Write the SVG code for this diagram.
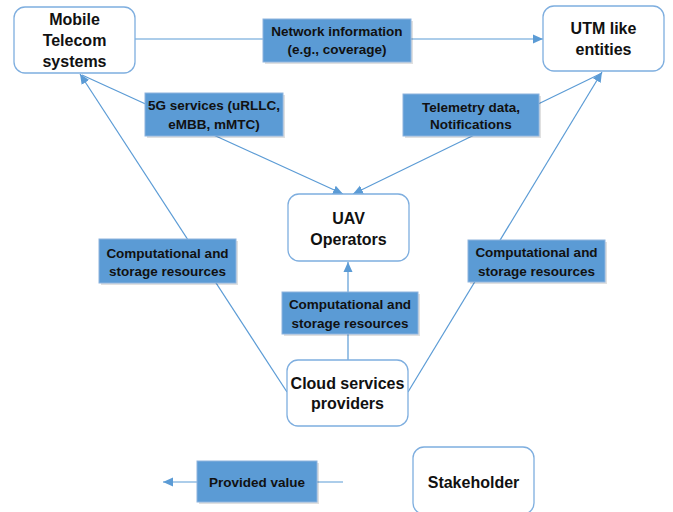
<svg xmlns="http://www.w3.org/2000/svg" width="673" height="512" viewBox="0 0 673 512">
  <defs>
    <marker id="arrow" viewBox="0 0 10 10" refX="10" refY="5" markerWidth="10" markerHeight="10" markerUnits="userSpaceOnUse" orient="auto">
      <path d="M0,0.5 L10,5 L0,9.5 Z" fill="#5B9BD5"/>
    </marker>
  </defs>
  <style>
    .node rect { fill: #ffffff; stroke: #7EAEDF; stroke-width: 1.3; }
    .node text { font-family: "Liberation Sans", Arial, sans-serif; font-weight: bold; font-size: 16px; fill: #111; text-anchor: middle; }
    .label .shadow { fill: #000; opacity: 0.12; }
    .label .box { fill: #5B9BD5; stroke: #8DB3DE; stroke-width: 1; }
    .label text { font-family: "Liberation Sans", Arial, sans-serif; font-weight: bold; font-size: 13.5px; fill: #111; text-anchor: middle; }
    .conn line { stroke: #5B9BD5; stroke-width: 1.2; fill: none; }
  </style>
  <rect width="673" height="512" fill="#ffffff"/>

  <!-- connectors -->
  <g id="connectors" class="conn">
    <line x1="135" y1="39" x2="543" y2="39" marker-end="url(#arrow)"/>
    <line x1="82" y1="75" x2="343" y2="194" marker-end="url(#arrow)"/>
    <line x1="602" y1="73" x2="353" y2="194" marker-end="url(#arrow)"/>
    <line x1="287" y1="392" x2="80" y2="74" marker-end="url(#arrow)"/>
    <line x1="408" y1="392" x2="602" y2="72" marker-end="url(#arrow)"/>
    <line x1="348" y1="360" x2="348" y2="262" marker-end="url(#arrow)"/>
    <line x1="343" y1="482" x2="163" y2="482" marker-end="url(#arrow)"/>
  </g>

  <!-- stakeholders -->
  <g id="mobile-telecom" class="node">
    <rect x="14" y="7" width="121" height="66" rx="11"/>
    <text x="74.5" y="25">Mobile</text>
    <text x="74.5" y="46">Telecom</text>
    <text x="74.5" y="67">systems</text>
  </g>
  <g id="utm" class="node">
    <rect x="543" y="6" width="121" height="65" rx="11"/>
    <text x="603.5" y="34">UTM like</text>
    <text x="603.5" y="55">entities</text>
  </g>
  <g id="uav-operators" class="node">
    <rect x="288" y="194" width="121" height="67" rx="11"/>
    <text x="348.5" y="224">UAV</text>
    <text x="348.5" y="245">Operators</text>
  </g>
  <g id="cloud-providers" class="node">
    <rect x="287" y="360" width="121" height="66" rx="11"/>
    <text x="347.5" y="389">Cloud services</text>
    <text x="347.5" y="409">providers</text>
  </g>
  <g id="legend-stakeholder" class="node">
    <rect x="413" y="447" width="121" height="67" rx="11"/>
    <text x="473.5" y="488">Stakeholder</text>
  </g>

  <!-- value labels -->
  <g id="label-network-info" class="label">
    <rect class="shadow" x="265" y="21" width="148" height="43"/>
    <rect class="box" x="263" y="19" width="148" height="43"/>
    <text x="337" y="36">Network information</text>
    <text x="337" y="54">(e.g., coverage)</text>
  </g>
  <g id="label-5g" class="label">
    <rect class="shadow" x="147" y="95" width="138" height="43"/>
    <rect class="box" x="145" y="93" width="138" height="43"/>
    <text x="214" y="110">5G services (uRLLC,</text>
    <text x="214" y="129">eMBB, mMTC)</text>
  </g>
  <g id="label-telemetry" class="label">
    <rect class="shadow" x="405" y="96" width="136" height="42"/>
    <rect class="box" x="403" y="94" width="136" height="42"/>
    <text x="471" y="112">Telemetry data,</text>
    <text x="471" y="129">Notifications</text>
  </g>
  <g id="label-compute-left" class="label">
    <rect class="shadow" x="101" y="241" width="137" height="44"/>
    <rect class="box" x="99" y="239" width="137" height="44"/>
    <text x="167.5" y="258">Computational and</text>
    <text x="167.5" y="276">storage resources</text>
  </g>
  <g id="label-compute-right" class="label">
    <rect class="shadow" x="470" y="242" width="137" height="42"/>
    <rect class="box" x="468" y="240" width="137" height="42"/>
    <text x="536.5" y="257">Computational and</text>
    <text x="536.5" y="276">storage resources</text>
  </g>
  <g id="label-compute-middle" class="label">
    <rect class="shadow" x="284" y="294" width="136" height="42"/>
    <rect class="box" x="282" y="292" width="136" height="42"/>
    <text x="350" y="309">Computational and</text>
    <text x="350" y="328">storage resources</text>
  </g>
  <g id="legend-provided-value" class="label">
    <rect class="shadow" x="199" y="463" width="120" height="41"/>
    <rect class="box" x="197" y="461" width="120" height="41"/>
    <text x="257" y="487">Provided value</text>
  </g>
</svg>
